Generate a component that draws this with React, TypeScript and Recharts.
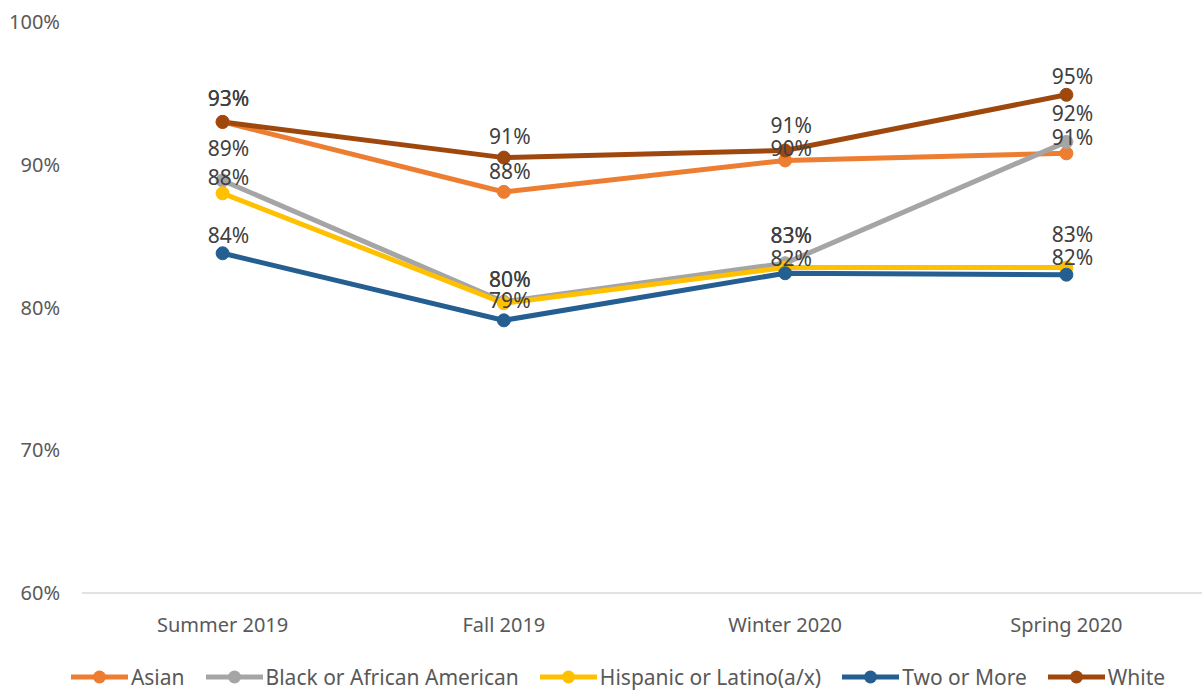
import React from "react";
import { LineChart, Line, XAxis, YAxis, Legend, LabelList } from "recharts";

const categories = ["Summer 2019", "Fall 2019", "Winter 2020", "Spring 2020"];
const asian = [93.0, 88.1, 90.3, 90.8];
const black = [88.9, 80.4, 83.1, 91.6];
const hispanic = [88.0, 80.3, 82.8, 82.8];
const twoOrMore = [83.8, 79.1, 82.4, 82.3];
const white = [93.0, 90.5, 91.0, 94.9];
const yTicks = [60, 70, 80, 90, 100];

// label distance (px) above each point, per series (styling only)
const asianLabelGap = [23, 20, 12, 16];
const blackLabelGap = [32, 22, 28, 28];
const hispanicLabelGap = [16, 23.4, 32.3, 33];
const twoLabelGap = [18, 20, 15, 17];
const whiteLabelGap = [23, 21, 25, 18];

const seriesList = [
  { key: "asian", name: "Asian", color: "#ED7D31", values: asian, gaps: asianLabelGap },
  { key: "black", name: "Black or African American", color: "#A5A5A5", values: black, gaps: blackLabelGap },
  { key: "hispanic", name: "Hispanic or Latino(a/x)", color: "#FFC000", values: hispanic, gaps: hispanicLabelGap },
  { key: "two", name: "Two or More", color: "#255E91", values: twoOrMore, gaps: twoLabelGap },
  { key: "white", name: "White", color: "#9E480E", values: white, gaps: whiteLabelGap },
];

const data = categories.map((c, i) => {
  const row: any = { cat: c };
  seriesList.forEach((s) => {
    row[s.key] = s.values[i];
  });
  return row;
});

const FONT = "'Noto Sans', sans-serif";

const LegendContent = () => (
  <div
    style={{
      display: "flex",
      justifyContent: "center",
      alignItems: "center",
      paddingTop: 14,
      paddingLeft: 29,
      height: 26,
      fontFamily: FONT,
      fontSize: 21,
      color: "#595959",
      whiteSpace: "nowrap",
    }}
  >
    {seriesList.map((s, i) => (
      <div
        key={s.key}
        style={{ display: "flex", alignItems: "center", marginLeft: i === 0 ? 0 : 21 }}
      >
        <svg width={57} height={16} style={{ marginRight: 3 }}>
          <line x1={0} y1={8} x2={57} y2={8} stroke={s.color} strokeWidth={5} />
          <circle cx={28.5} cy={8} r={6.5} fill={s.color} />
        </svg>
        <span style={{ lineHeight: "26px" }}>{s.name}</span>
      </div>
    ))}
  </div>
);

const makeLabel = (gaps: number[]) => (props: any) => {
  const { x, y, value, index } = props;
  if (value == null) return null;
  const gap = gaps[index] ?? 20;
  return (
    <text
      x={Number(x) + 6}
      y={Number(y) - gap + 7.5}
      textAnchor="middle"
      fill="#404040"
      fontSize={21}
      fontFamily={FONT}
    >
      {`${Math.round(Number(value))}%`}
    </text>
  );
};

export default function App() {
  return (
    <div
      style={{
        width: 1202,
        height: 690,
        overflow: "hidden",
        position: "relative",
        background: "#fff",
      }}
    >
      <style>{`html,body{margin:0;padding:0;overflow:hidden;}`}</style>
      <LineChart
        width={1207}
        height={690}
        data={data}
        margin={{ top: 22, right: 0, bottom: 0, left: 0 }}
      >
        <XAxis
          dataKey="cat"
          height={57}
          padding={{ left: 140.6, right: 140.6 }}
          axisLine={{ stroke: "#D9D9D9", strokeWidth: 1.5 }}
          tickLine={false}
          tickSize={0}
          tickMargin={25}
          tick={{ fill: "#595959", fontSize: 20, fontFamily: FONT }}
          interval={0}
        />
        <YAxis
          width={82}
          domain={[60, 100]}
          ticks={yTicks}
          tickFormatter={(v: number) => `${v}%`}
          axisLine={false}
          tickLine={false}
          tickSize={0}
          tickMargin={22}
          tick={{ fill: "#595959", fontSize: 20, fontFamily: FONT }}
          allowDataOverflow
        />
        <Legend verticalAlign="bottom" height={40} content={<LegendContent />} />
        {seriesList.map((s) => (
          <Line
            key={s.key}
            dataKey={s.key}
            name={s.name}
            stroke={s.color}
            strokeWidth={5}
            dot={{ r: 6.5, fill: s.color, stroke: s.color, strokeWidth: 1 }}
            activeDot={false}
            isAnimationActive={false}
          />
        ))}
        {seriesList.map((s) => (
          <Line
            key={s.key + "-labels"}
            dataKey={s.key}
            stroke="none"
            dot={false}
            activeDot={false}
            legendType="none"
            isAnimationActive={false}
          >
            <LabelList dataKey={s.key} content={makeLabel(s.gaps)} />
          </Line>
        ))}
      </LineChart>
    </div>
  );
}
